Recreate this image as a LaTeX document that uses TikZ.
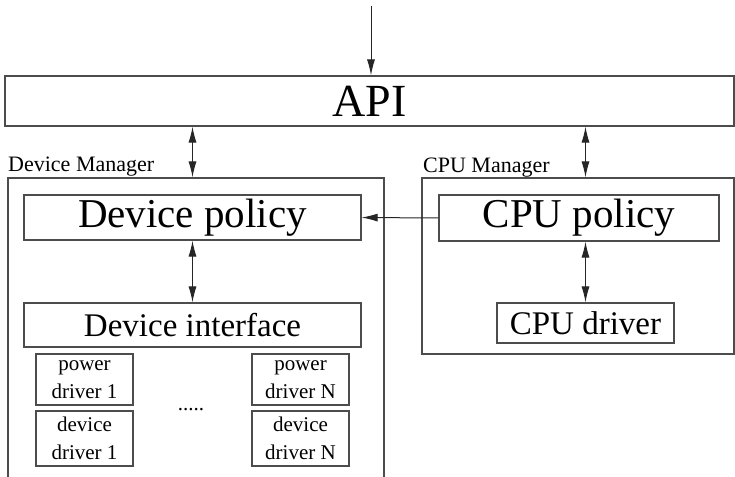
\documentclass[tikz,border=0pt]{standalone}
\usepackage{fontspec}
\setmainfont{Liberation Serif}
\usepackage{tikz}
\usetikzlibrary{arrows.meta}
\tikzset{>={Latex[length=16pt,width=8pt]}}
\tikzset{
    box/.style={draw=black!70, line width=1.2pt, inner sep=0pt, align=center},
    link/.style={line width=1pt, black!85},
    tag/.style={anchor=base west, inner sep=0pt, font=\fontsize{22}{24}\selectfont}
}
\newcommand{\fsz}[1]{\fontsize{#1}{#1}\selectfont}

\begin{document}
\begin{tikzpicture}[x=1pt, y=-1pt]
    \useasboundingbox (0,0) rectangle (735,476);
    \node[box, minimum width=729pt, minimum height=50pt, font=\fsz{46}](api) at (369.5,101){API};
    \node[box, minimum width=376pt, minimum height=312pt](devmgr) at (196,334){};
    \node[box, minimum width=312pt, minimum height=176pt](cpumgr) at (578,266){};
    \node[tag](devtag) at (8,171){Device Manager};
    \node[tag](cputag) at (423,172){CPU Manager};
    \node[box, minimum width=337pt, minimum height=45pt, font=\fsz{41}](devpol) at (192.5,217.5){Device policy};
    \node[box, minimum width=280pt, minimum height=46pt, font=\fsz{41}](cpupol) at (579,218){CPU policy};
    \node[box, minimum width=337pt, minimum height=44pt, font=\fsz{33}](devif) at (192.5,325){Device interface};
    \node[box, minimum width=177pt, minimum height=40pt, font=\fsz{33}](cpudrv) at (585.5,323){CPU driver};
    \node[box, minimum width=97pt, minimum height=51pt, font=\fontsize{21}{28}\selectfont](pwr1) at (84.5,379.5){power\\driver 1};
    \node[box, minimum width=97pt, minimum height=55pt, font=\fontsize{21}{28}\selectfont](drv1) at (84.5,438.5){device\\driver 1};
    \node[box, minimum width=97pt, minimum height=51pt, font=\fontsize{21}{28}\selectfont](pwrN) at (300.5,379.5){power\\driver N};
    \node[box, minimum width=97pt, minimum height=55pt, font=\fontsize{21}{28}\selectfont](drvN) at (300.5,438.5){device\\driver N};
    \node[anchor=base, inner sep=0pt, font=\fsz{21}](dots) at (191,410){.....};
    \coordinate (src) at (371,6);
    \draw[link, ->](src)--(src |- api.north);
    \draw[link, <->](devpol.north |- api.south)--(devpol.north |- devmgr.north);
    \draw[link, <->](cpudrv.north |- api.south)--(cpudrv.north |- cpumgr.north);
    \draw[link, ->](cpupol.west)--(devpol.east);
    \draw[link, <->](devpol.south)--(devif.north);
    \draw[link, <->](cpudrv.north |- cpupol.south)--(cpudrv.north);
\end{tikzpicture}
\end{document}
